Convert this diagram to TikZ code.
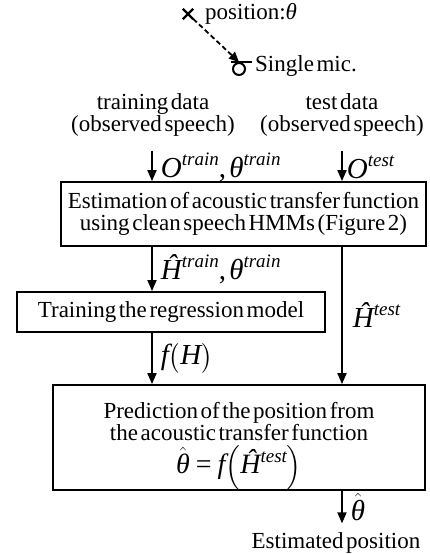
\documentclass[tikz,border=0pt]{standalone}
\usepackage{amsmath}
\usepackage{fontspec}
\setmainfont{Liberation Serif}[WordSpace=0.45]
\usetikzlibrary{arrows.meta,shapes.misc}
\newcommand{\mi}[1]{\textit{#1}}
\newcommand{\tsup}[1]{\raisebox{0.42em}{\fontsize{19}{19}\selectfont\itshape #1}}
\newcommand{\hth}{$\hat{\text{\itshape θ}}$}
\tikzset{
  box/.style={draw, line width=1.8pt, inner sep=0pt, align=center, font=\fontsize{23}{22}\selectfont},
  txt/.style={align=center, inner sep=0pt, font=\fontsize{23}{22}\selectfont},
  lbl/.style={inner sep=0pt, font=\fontsize{29}{29}\selectfont},
  flow/.style={-{Triangle[length=11pt,width=9pt]}, line width=1.8pt},
}
\begin{document}
\begin{tikzpicture}[x=1pt, y=-1pt]
  \useasboundingbox (0,0) rectangle (430,554);
  \node[draw, cross out, line width=2.4pt, minimum size=8pt, inner sep=0pt] (src) at (188,14) {};
  \node[txt, anchor=west] (pos) at (205,14) {position:\mi{θ}};
  \node[draw, circle, line width=2pt, minimum size=12pt, inner sep=0pt] (mic) at (239,69) {};
  \draw[line width=2pt] ([xshift=-8pt]mic.north) -- ([xshift=13pt]mic.north);
  \draw[dash pattern=on 5pt off 3pt, line width=1.8pt, -{Triangle[length=10pt,width=9pt]}] (src) -- (mic.north);
  \node[txt, anchor=west] (miclbl) at (255,66) {Single mic.};
  \node[txt] (train) at (153,115) {training data\\(observed speech)};
  \node[txt] (test) at (342,115) {test data\\(observed speech)};
  \node[box, minimum width=365pt, minimum height=64pt] (est) at (243.5,214)
    {Estimation of acoustic transfer function\\using clean speech HMMs (Figure 2)};
  \node[box, minimum width=308pt, minimum height=40pt] (reg) at (171,312)
    {Training the regression model};
  \node[box, minimum width=372pt, minimum height=101pt] (pred) at (239,437.5)
    {\rule{0pt}{33pt}Prediction of the position from\\the acoustic transfer function\\[4pt]
     {\fontsize{28}{28}\selectfont\hth\hspace{6pt}=\hspace{6pt}\itshape f$\Bigl($\^{H}\tsup{test}$\Bigr)$}};
  \node[txt] (res) at (336,543) {Estimated position};
  \draw[flow] ([yshift=-14pt]train.south -| 152,0) -- (est.north -| 152,0)
    node[lbl, pos=0.55, right=8pt] {\itshape O\tsup{train}\upshape, \itshape θ\tsup{train}};
  \draw[flow] ([yshift=-14pt]test.south) -- (test.south |- est.north)
    node[lbl, pos=0.55, right=4pt] {\itshape O\tsup{test}};
  \draw[flow] (est.south -| 152,0) -- (reg.north -| 152,0)
    node[lbl, midway, right=8pt] {\itshape\^{H}\tsup{train}\upshape, \itshape θ\tsup{train}};
  \draw[flow] (test.south |- est.south) -- (test.south |- pred.north)
    node[lbl, midway, right=10pt] {\itshape\^{H}\tsup{test}};
  \draw[flow] (reg.south -| 152,0) -- (pred.north -| 152,0)
    node[lbl, midway, right=8pt] {\itshape f$\bigl($H$\bigr)$};
  \draw[flow] (test.south |- pred.south) -- ([yshift=9pt]test.south |- res.north)
    node[lbl, midway, right=8pt] {\hth};
\end{tikzpicture}
\end{document}
